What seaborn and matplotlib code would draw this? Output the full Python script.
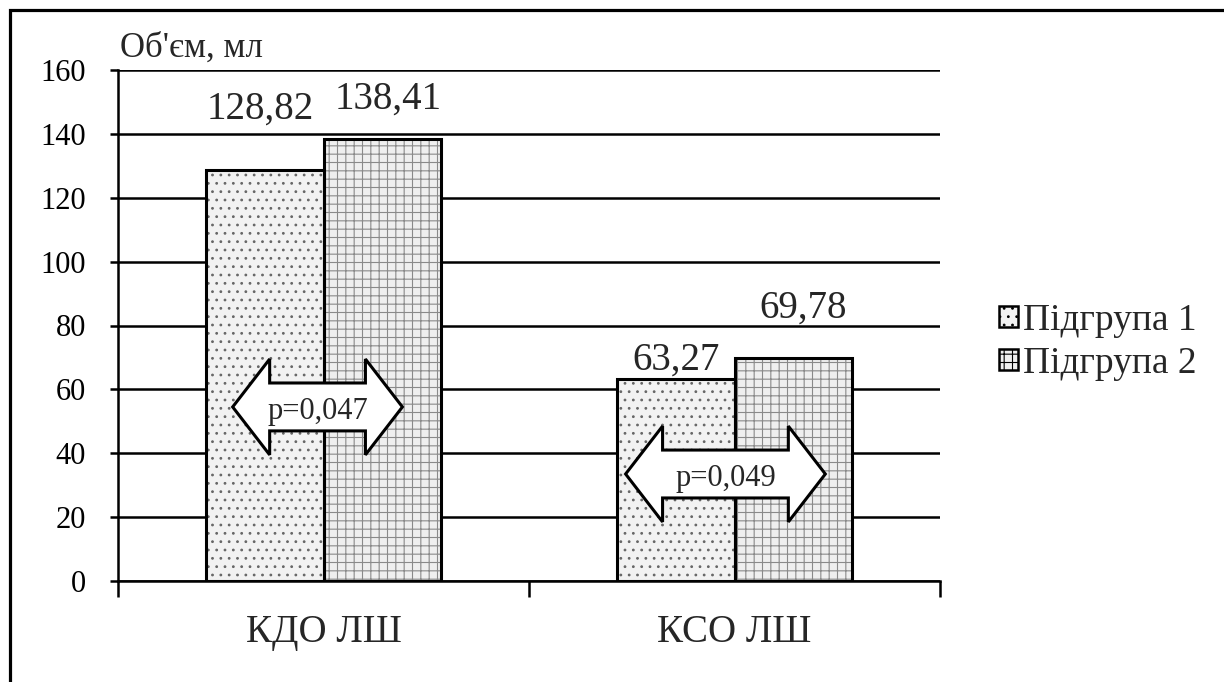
import pandas as pd
import matplotlib
matplotlib.use("Agg")
import matplotlib.pyplot as plt
from matplotlib.patches import Rectangle, Patch, Polygon
import seaborn as sns

categories = ["КДО ЛШ", "КСО ЛШ"]
series = ["Підгрупа 1", "Підгрупа 2"]
group1 = [128.82, 63.27]
group2 = [138.41, 69.78]
p_labels = ["p=0,047", "p=0,049"]
y_ticks = [0, 20, 40, 60, 80, 100, 120, 140, 160]

# long form table for seaborn
df = pd.DataFrame({
    "category": categories * 2,
    "group": [series[0]] * 2 + [series[1]] * 2,
    "value": group1 + group2,
})

sns.set_style("white")
plt.rcParams["font.family"] = ["Liberation Serif", "DejaVu Serif"]
plt.rcParams["hatch.linewidth"] = 0.8

fig = plt.figure(figsize=(12.24, 6.82), dpi=100)
ax = fig.add_axes([118 / 1224, 1 - 581 / 682, (940 - 118) / 1224, (581 - 70) / 682])

fills = ["#f2f2f2", "#efefef"]
hatches = ["..", "++"]
hatch_cols = ["#666666", "#8a8a8a"]

sns.barplot(data=df, x="category", y="value", hue="group", hue_order=series,
            order=categories, palette=fills, width=0.572, legend=False,
            saturation=1, ax=ax, zorder=3)

# hatched fill + heavy black outline on top
for cont, h, hc in zip(ax.containers, hatches, hatch_cols):
    for bar in cont:
        bar.set_hatch(h)
        bar.set_edgecolor(hc)
        bar.set_linewidth(0)
        ax.add_patch(Rectangle((bar.get_x(), bar.get_y()), bar.get_width(),
                               bar.get_height(), fill=False, ec="black",
                               lw=2.2, zorder=4))

# value labels, placed by hand like in the original
label_offsets = [[(-3, 37), (0, 7)], [(4, 22), (7, 29)]]
for cont, offs in zip(ax.containers, label_offsets):
    for bar, (dx, dy) in zip(cont, offs):
        v = bar.get_height()
        ax.annotate(f"{v:.2f}".replace(".", ","),
                    xy=(bar.get_x() + bar.get_width() / 2, v),
                    xytext=(dx, dy), textcoords="offset points",
                    ha="center", va="baseline", fontsize=28, zorder=6)

# double-headed arrows with p-values
arrows = [(-0.221, 0.192, 54.5), (0.735, 1.221, 33.5)]
body, head, head_len = 7.5, 15.0, 0.09
for (x0, x1, yc), txt in zip(arrows, p_labels):
    pts = [(x0, yc), (x0 + head_len, yc + head), (x0 + head_len, yc + body),
           (x1 - head_len, yc + body), (x1 - head_len, yc + head), (x1, yc),
           (x1 - head_len, yc - head), (x1 - head_len, yc - body),
           (x0 + head_len, yc - body), (x0 + head_len, yc - head)]
    ax.add_patch(Polygon(pts, closed=True, fc="white", ec="black", lw=2.2,
                         joinstyle="miter", zorder=7))
    ax.text((x0 + x1) / 2, yc - 1.5, txt, ha="center", va="center",
            fontsize=22, zorder=8)

ax.set_ylim(0, 160)
ax.set_xlim(-0.5, 1.5)
ax.set_yticks(y_ticks)
ax.set_xticks([-0.5, 0.5, 1.5], labels=["", "", ""])
ax.set_xticks([0, 1], labels=categories, minor=True)
ax.set_xlabel("")
ax.set_ylabel("")

ax.yaxis.grid(True, color="black", lw=1.8)
ax.set_axisbelow(True)
for s in ["top", "right"]:
    ax.spines[s].set_visible(False)
for s in ["left", "bottom"]:
    ax.spines[s].set_color("black")
    ax.spines[s].set_linewidth(1.8)
    ax.spines[s].set_zorder(5)

ax.tick_params(axis="y", which="major", direction="out", length=6, width=1.8,
               pad=17, labelsize=22, left=True, colors="black")
ax.tick_params(axis="x", which="major", direction="out", length=11.5,
               width=1.8, bottom=True, colors="black")
ax.tick_params(axis="x", which="minor", length=0, pad=24, labelsize=28)

fig.text(120 / 1224, 1 - 57 / 682, "Об'єм, мл", fontsize=25, va="baseline")

handles = [Patch(facecolor=fills[i], edgecolor="black", hatch=hatches[i],
                 lw=1.8) for i in range(2)]
fig.legend(handles, series, loc="center left",
           bbox_to_anchor=(980 / 1224, 1 - 342 / 682), frameon=False,
           fontsize=27, handlelength=0.5, handleheight=0.5,
           handletextpad=0.15, labelspacing=0.22, borderpad=0)

# outer frame of the chart area
fig.add_artist(Rectangle((10 / 1224, -0.05), 1.1, 0.985 + 0.05, fill=False,
                         ec="black", lw=2.3, transform=fig.transFigure))

fig.savefig("out.png", dpi=100)
